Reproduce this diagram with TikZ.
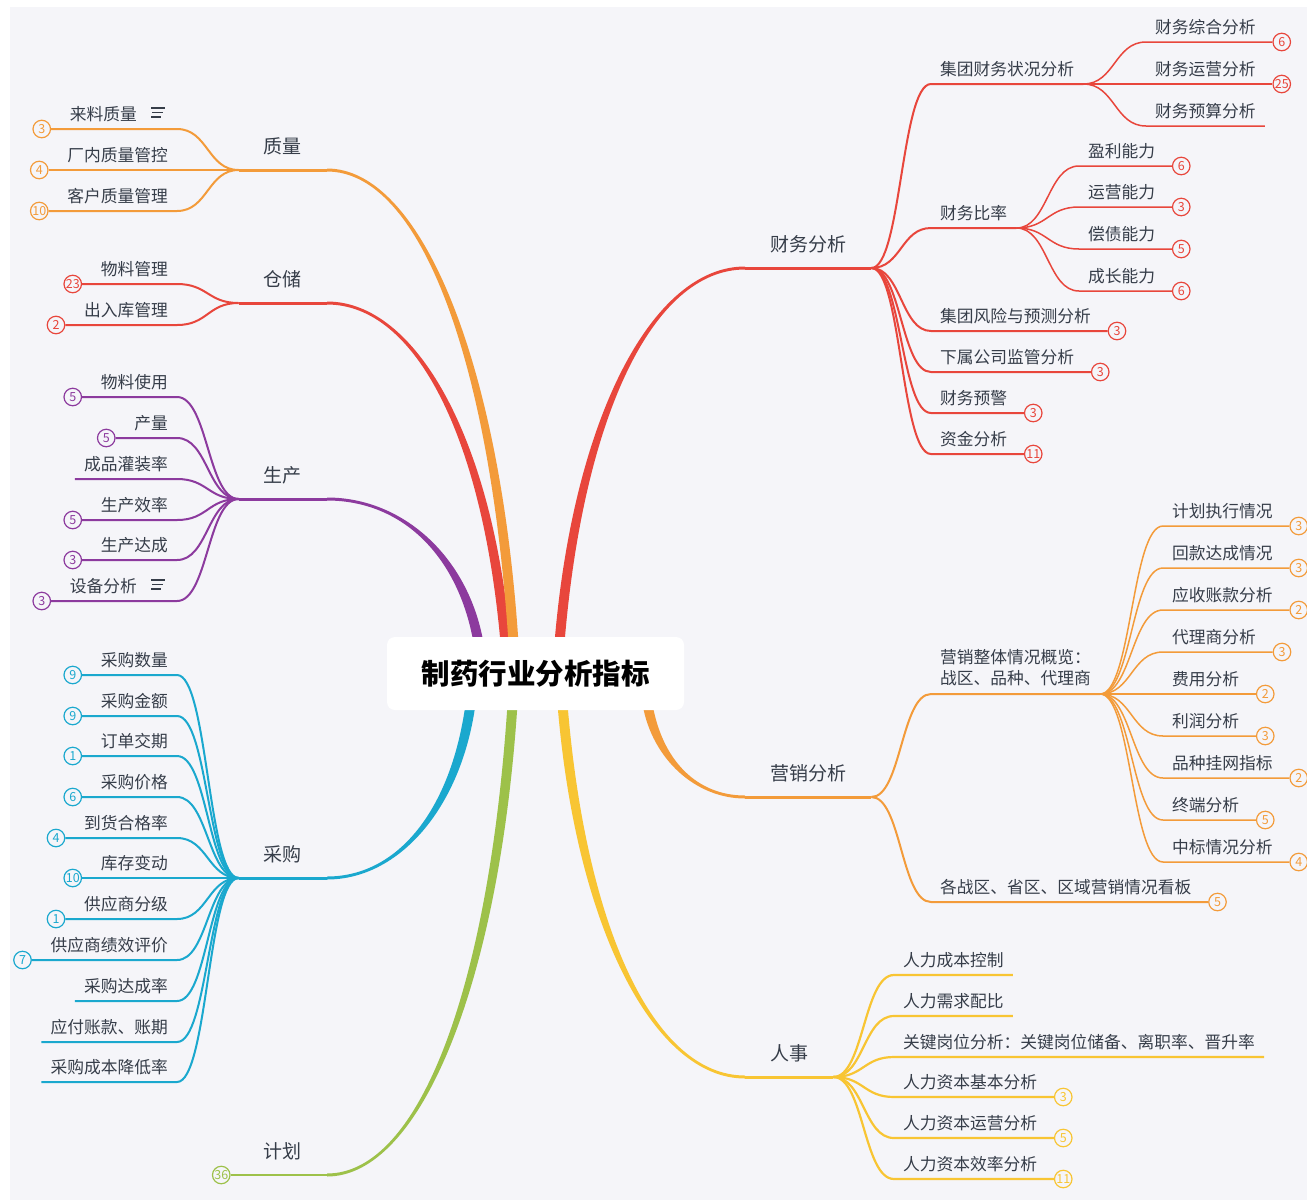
\documentclass[tikz,border=0pt]{standalone}
\usepackage{fontspec}
\setmainfont{Noto Sans CJK SC}
\usetikzlibrary{positioning}
\usetikzlibrary{calc}
\usetikzlibrary{backgrounds}
\definecolor{bgc}{HTML}{F5F5F9}
\definecolor{textc}{HTML}{363D49}
\definecolor{orangeB}{HTML}{F39B3A}
\definecolor{redB}{HTML}{E8463C}
\definecolor{purpleB}{HTML}{8C3A9E}
\definecolor{cyanB}{HTML}{1AA8CE}
\definecolor{greenB}{HTML}{9DC14A}
\definecolor{yellowB}{HTML}{F8C533}
\tikzset{
	root/.style={rectangle, rounded corners=8pt, fill=white, minimum width=297pt, minimum height=73pt, font=\fontsize{28.5}{30}\selectfont\bfseries, text=black},
	topic/.style={inner xsep=25pt, inner ysep=0pt, text height=17pt, text depth=16pt, font=\fontsize{19}{22}\selectfont, text=textc},
	leafbase/.style={inner xsep=9pt, inner ysep=0pt, font=\fontsize{16.75}{21}\selectfont, text=textc},
	leaf/.style={leafbase, text height=14pt, text depth=8.5pt},
	badge/.style={circle, draw=#1, text=#1, fill=bgc, line width=1.2pt, inner sep=0pt, minimum size=17.5pt, font=\fontsize{12.5}{13}\selectfont},
	% curved link between two line ends
	twig/.style={to path={let \p1=(\tikztostart), \p2=(\tikztotarget) in .. controls ({0.5*\x1+0.5*\x2},\y1) and ({0.5*\x1+0.5*\x2},\y2) .. (\p2)}},
}
% tapered branch from the centre to a topic
\newcommand{\trunk}[3]{%
	\fill[#1] let \p1=(#2), \p2=(#3), \n1={-sign(\x2-\x1)*sign(\y2-\y1)} in
		(\x2,{\y2+1.5}) .. controls ({0.5*\x1+0.5*\x2},{\y2+1.5}) and ({0.9*\x1+0.1*\x2+(\n1)*5},{0.4*\y1+0.6*\y2}) .. ({\x1+(\n1)*5},\y1)
		-- ({\x1-(\n1)*5},\y1) .. controls ({0.9*\x1+0.1*\x2-(\n1)*5},{0.4*\y1+0.6*\y2}) and ({0.5*\x1+0.5*\x2},{\y2-1.5}) .. (\x2,{\y2-1.5}) -- cycle;}
% notes icon
\newcommand{\noteicon}[1]{%
	\draw[textc, line width=1.2pt] ([shift={(-26,-21)}]#1.south east) -- ++(14,0)
		([shift={(-25,-16.5)}]#1.south east) -- ++(11,0)
		([shift={(-26,-12)}]#1.south east) -- ++(10,0);}

\begin{document}
\begin{tikzpicture}[x=1pt, y=-1pt]
	\useasboundingbox (0,0) rectangle (1307,1200);
	
	\node (root) [root] at (535.5,673.5) {制药行业分析指标};
	
	% topics
	\node (zl) [topic, anchor=south east] at (327,170) {质量};
	\node (cc) [topic, anchor=south east] at (327,303) {仓储};
	\node (sc) [topic, anchor=south east] at (327,499) {生产};
	\node (cg) [topic, anchor=south east] at (327,878) {采购};
	\node (jh) [topic, anchor=south east] at (327,1175) {计划};
	\node (jhn) [badge=greenB, left=8pt of jh.south west] {36};
	\node (cw) [topic, anchor=south west] at (745,268) {财务分析};
	\node (yx) [topic, anchor=south west] at (745,797) {营销分析};
	\node (rs) [topic, anchor=south west] at (745,1077) {人事};
	
	% 质量
	\node (zl1) [leaf, anchor=south east] at (177,129) {来料质量\kern31pt};
	\node (zl2) [leaf, anchor=south east] at (177,170) {厂内质量管控};
	\node (zl3) [leaf, anchor=south east] at (177,211) {客户质量管理};
	\node (zl1n) [badge=orangeB, left=9.5pt of zl1.south west] {3};
	\node (zl2n) [badge=orangeB, left=9.5pt of zl2.south west] {4};
	\node (zl3n) [badge=orangeB, left=9.5pt of zl3.south west] {10};
	
	% 仓储
	\node (cc1) [leaf, anchor=south east] at (177,284) {物料管理};
	\node (cc2) [leaf, anchor=south east] at (177,325) {出入库管理};
	\node (cc1n) [badge=redB, left=9.5pt of cc1.south west] {23};
	\node (cc2n) [badge=redB, left=9.5pt of cc2.south west] {2};
	
	% 生产
	\node (sc1) [leaf, anchor=south east] at (177,397) {物料使用};
	\node (sc2) [leaf, anchor=south east] at (177,438) {产量};
	\node (sc3) [leaf, anchor=south east] at (177,479) {成品灌装率};
	\node (sc4) [leaf, anchor=south east] at (177,520) {生产效率};
	\node (sc5) [leaf, anchor=south east] at (177,560) {生产达成};
	\node (sc6) [leaf, anchor=south east] at (177,601) {设备分析\kern31pt};
	\node (sc1n) [badge=purpleB, left=9.5pt of sc1.south west] {5};
	\node (sc2n) [badge=purpleB, left=9.5pt of sc2.south west] {5};
	\node (sc4n) [badge=purpleB, left=9.5pt of sc4.south west] {5};
	\node (sc5n) [badge=purpleB, left=9.5pt of sc5.south west] {3};
	\node (sc6n) [badge=purpleB, left=9.5pt of sc6.south west] {3};
	
	% 采购
	\node (cg1) [leaf, anchor=south east] at (177,675) {采购数量};
	\node (cg2) [leaf, anchor=south east] at (177,716) {采购金额};
	\node (cg3) [leaf, anchor=south east] at (177,756) {订单交期};
	\node (cg4) [leaf, anchor=south east] at (177,797) {采购价格};
	\node (cg5) [leaf, anchor=south east] at (177,838) {到货合格率};
	\node (cg6) [leaf, anchor=south east] at (177,878) {库存变动};
	\node (cg7) [leaf, anchor=south east] at (177,919) {供应商分级};
	\node (cg8) [leaf, anchor=south east] at (177,960) {供应商绩效评价};
	\node (cg9) [leaf, anchor=south east] at (177,1001) {采购达成率};
	\node (cg10) [leaf, anchor=south east] at (177,1042) {应付账款、账期};
	\node (cg11) [leaf, anchor=south east] at (177,1082) {采购成本降低率};
	\node (cg1n) [badge=cyanB, left=9.5pt of cg1.south west] {9};
	\node (cg2n) [badge=cyanB, left=9.5pt of cg2.south west] {9};
	\node (cg3n) [badge=cyanB, left=9.5pt of cg3.south west] {1};
	\node (cg4n) [badge=cyanB, left=9.5pt of cg4.south west] {6};
	\node (cg5n) [badge=cyanB, left=9.5pt of cg5.south west] {4};
	\node (cg6n) [badge=cyanB, left=9.5pt of cg6.south west] {10};
	\node (cg7n) [badge=cyanB, left=9.5pt of cg7.south west] {1};
	\node (cg8n) [badge=cyanB, left=9.5pt of cg8.south west] {7};
	
	% 财务分析
	\node (cw1) [leaf, anchor=south west] at (931,84) {集团财务状况分析};
	\node (cw11) [leaf, anchor=south west] at (1146,42) {财务综合分析};
	\node (cw12) [leaf, anchor=south west] at (1146,84) {财务运营分析};
	\node (cw13) [leaf, anchor=south west] at (1146,126) {财务预算分析};
	\node (cw2) [leaf, anchor=south west] at (931,228) {财务比率};
	\node (cw21) [leaf, anchor=south west] at (1079,166) {盈利能力};
	\node (cw22) [leaf, anchor=south west] at (1079,207) {运营能力};
	\node (cw23) [leaf, anchor=south west] at (1079,249) {偿债能力};
	\node (cw24) [leaf, anchor=south west] at (1079,291) {成长能力};
	\node (cw3) [leaf, anchor=south west] at (931,331) {集团风险与预测分析};
	\node (cw4) [leaf, anchor=south west] at (931,372) {下属公司监管分析};
	\node (cw5) [leaf, anchor=south west] at (931,413) {财务预警};
	\node (cw6) [leaf, anchor=south west] at (931,454) {资金分析};
	\node (cw11n) [badge=redB, right=7.5pt of cw11.south east] {6};
	\node (cw12n) [badge=redB, right=7.5pt of cw12.south east] {25};
	\node (cw21n) [badge=redB, right=7.5pt of cw21.south east] {6};
	\node (cw22n) [badge=redB, right=7.5pt of cw22.south east] {3};
	\node (cw23n) [badge=redB, right=7.5pt of cw23.south east] {5};
	\node (cw24n) [badge=redB, right=7.5pt of cw24.south east] {6};
	\node (cw3n) [badge=redB, right=7.5pt of cw3.south east] {3};
	\node (cw4n) [badge=redB, right=7.5pt of cw4.south east] {3};
	\node (cw5n) [badge=redB, right=7.5pt of cw5.south east] {3};
	\node (cw6n) [badge=redB, right=7.5pt of cw6.south east] {11};
	
	% 营销分析
	\node (yx1) [leafbase, align=left, inner ysep=8pt, anchor=south west] at (931,694) {营销整体情况概览：\\战区、品种、代理商};
	\node (yx11) [leaf, anchor=south west] at (1163,526) {计划执行情况};
	\node (yx12) [leaf, anchor=south west] at (1163,568) {回款达成情况};
	\node (yx13) [leaf, anchor=south west] at (1163,610) {应收账款分析};
	\node (yx14) [leaf, anchor=south west] at (1163,652) {代理商分析};
	\node (yx15) [leaf, anchor=south west] at (1163,694) {费用分析};
	\node (yx16) [leaf, anchor=south west] at (1163,736) {利润分析};
	\node (yx17) [leaf, anchor=south west] at (1163,778) {品种挂网指标};
	\node (yx18) [leaf, anchor=south west] at (1163,820) {终端分析};
	\node (yx19) [leaf, anchor=south west] at (1163,862) {中标情况分析};
	\node (yx2) [leaf, anchor=south west] at (931,902) {各战区、省区、区域营销情况看板};
	\node (yx11n) [badge=orangeB, right=7.5pt of yx11.south east] {3};
	\node (yx12n) [badge=orangeB, right=7.5pt of yx12.south east] {3};
	\node (yx13n) [badge=orangeB, right=7.5pt of yx13.south east] {2};
	\node (yx14n) [badge=orangeB, right=7.5pt of yx14.south east] {3};
	\node (yx15n) [badge=orangeB, right=7.5pt of yx15.south east] {2};
	\node (yx16n) [badge=orangeB, right=7.5pt of yx16.south east] {3};
	\node (yx17n) [badge=orangeB, right=7.5pt of yx17.south east] {2};
	\node (yx18n) [badge=orangeB, right=7.5pt of yx18.south east] {5};
	\node (yx19n) [badge=orangeB, right=7.5pt of yx19.south east] {4};
	\node (yx2n) [badge=orangeB, right=7.5pt of yx2.south east] {5};
	
	% 人事
	\node (rs1) [leaf, anchor=south west] at (894,975) {人力成本控制};
	\node (rs2) [leaf, anchor=south west] at (894,1016) {人力需求配比};
	\node (rs3) [leaf, anchor=south west] at (894,1057) {关键岗位分析：关键岗位储备、离职率、晋升率};
	\node (rs4) [leaf, anchor=south west] at (894,1097) {人力资本基本分析};
	\node (rs5) [leaf, anchor=south west] at (894,1138) {人力资本运营分析};
	\node (rs6) [leaf, anchor=south west] at (894,1179) {人力资本效率分析};
	\node (rs4n) [badge=yellowB, right=7.5pt of rs4.south east] {3};
	\node (rs5n) [badge=yellowB, right=7.5pt of rs5.south east] {5};
	\node (rs6n) [badge=yellowB, right=7.5pt of rs6.south east] {11};
	
	\noteicon{zl1}
	\noteicon{sc6}
	
	\begin{scope}[on background layer]
		\fill[white] (0,0) rectangle (1307,1200);
		\fill[bgc] (10,7) rectangle (1307,1200);
		\trunk{purpleB}{[xshift=-57pt,yshift=-6pt]root.north}{sc.south east}
		\trunk{redB}{[xshift=-30pt,yshift=-6pt]root.north}{cc.south east}
		\trunk{orangeB}{[xshift=-22pt,yshift=-6pt]root.north}{zl.south east}
		\trunk{redB}{[xshift=24pt,yshift=-6pt]root.north}{cw.south west}
		\trunk{cyanB}{[xshift=-65pt,yshift=6pt]root.south}{cg.south east}
		\trunk{greenB}{[xshift=-23pt,yshift=6pt]root.south}{jh.south east}
		\trunk{yellowB}{[xshift=27pt,yshift=6pt]root.south}{rs.south west}
		\trunk{orangeB}{[xshift=112pt,yshift=6pt]root.south}{yx.south west}
	\end{scope}
	
	% topic lines
	\begin{scope}[line width=3pt]
		\draw[orangeB] (zl.south west) -- (zl.south east);
		\draw[redB] (cc.south west) -- (cc.south east);
		\draw[purpleB] (sc.south west) -- (sc.south east);
		\draw[cyanB] (cg.south west) -- (cg.south east);
		\draw[greenB, line width=2.5pt] (jhn) -- (jh.south west) -- (jh.south east);
		\draw[redB] (cw.south west) -- (cw.south east);
		\draw[orangeB] (yx.south west) -- (yx.south east);
		\draw[yellowB] (rs.south west) -- (rs.south east);
	\end{scope}
	
	\begin{scope}[orangeB, line width=2pt]
		\draw (zl1n) -- (zl1.south west) -- (zl1.south east) to[twig] (zl.south west);
		\draw (zl2n) -- (zl2.south west) -- (zl2.south east) to[twig] (zl.south west);
		\draw (zl3n) -- (zl3.south west) -- (zl3.south east) to[twig] (zl.south west);
	\end{scope}
	
	\begin{scope}[redB, line width=2pt]
		\draw (cc1n) -- (cc1.south west) -- (cc1.south east) to[twig] (cc.south west);
		\draw (cc2n) -- (cc2.south west) -- (cc2.south east) to[twig] (cc.south west);
	\end{scope}
	
	\begin{scope}[purpleB, line width=2pt]
		\draw (sc1n) -- (sc1.south west) -- (sc1.south east) to[twig] (sc.south west);
		\draw (sc2n) -- (sc2.south west) -- (sc2.south east) to[twig] (sc.south west);
		\draw (sc3.south west) -- (sc3.south east) to[twig] (sc.south west);
		\draw (sc4n) -- (sc4.south west) -- (sc4.south east) to[twig] (sc.south west);
		\draw (sc5n) -- (sc5.south west) -- (sc5.south east) to[twig] (sc.south west);
		\draw (sc6n) -- (sc6.south west) -- (sc6.south east) to[twig] (sc.south west);
	\end{scope}
	
	\begin{scope}[cyanB, line width=2pt]
		\draw (cg1n) -- (cg1.south west) -- (cg1.south east) to[twig] (cg.south west);
		\draw (cg2n) -- (cg2.south west) -- (cg2.south east) to[twig] (cg.south west);
		\draw (cg3n) -- (cg3.south west) -- (cg3.south east) to[twig] (cg.south west);
		\draw (cg4n) -- (cg4.south west) -- (cg4.south east) to[twig] (cg.south west);
		\draw (cg5n) -- (cg5.south west) -- (cg5.south east) to[twig] (cg.south west);
		\draw (cg6n) -- (cg6.south west) -- (cg6.south east) to[twig] (cg.south west);
		\draw (cg7n) -- (cg7.south west) -- (cg7.south east) to[twig] (cg.south west);
		\draw (cg8n) -- (cg8.south west) -- (cg8.south east) to[twig] (cg.south west);
		\draw (cg9.south west) -- (cg9.south east) to[twig] (cg.south west);
		\draw (cg10.south west) -- (cg10.south east) to[twig] (cg.south west);
		\draw (cg11.south west) -- (cg11.south east) to[twig] (cg.south west);
	\end{scope}
	
	\begin{scope}[redB, line width=2pt]
		\draw (cw.south east) to[twig] (cw1.south west) -- (cw1.south east);
		\draw (cw.south east) to[twig] (cw2.south west) -- (cw2.south east);
		\draw (cw.south east) to[twig] (cw3.south west) -- (cw3.south east) -- (cw3n);
		\draw (cw.south east) to[twig] (cw4.south west) -- (cw4.south east) -- (cw4n);
		\draw (cw.south east) to[twig] (cw5.south west) -- (cw5.south east) -- (cw5n);
		\draw (cw.south east) to[twig] (cw6.south west) -- (cw6.south east) -- (cw6n);
	\end{scope}
	\begin{scope}[redB, line width=1.5pt]
		\draw (cw1.south east) to[twig] (cw11.south west) -- (cw11.south east) -- (cw11n);
		\draw (cw1.south east) to[twig] (cw12.south west) -- (cw12.south east) -- (cw12n);
		\draw (cw1.south east) to[twig] (cw13.south west) -- (cw13.south east);
		\draw (cw2.south east) to[twig] (cw21.south west) -- (cw21.south east) -- (cw21n);
		\draw (cw2.south east) to[twig] (cw22.south west) -- (cw22.south east) -- (cw22n);
		\draw (cw2.south east) to[twig] (cw23.south west) -- (cw23.south east) -- (cw23n);
		\draw (cw2.south east) to[twig] (cw24.south west) -- (cw24.south east) -- (cw24n);
	\end{scope}
	
	\begin{scope}[orangeB, line width=2pt]
		\draw (yx.south east) to[twig] (yx1.south west) -- (yx1.south east);
		\draw (yx.south east) to[twig] (yx2.south west) -- (yx2.south east) -- (yx2n);
	\end{scope}
	\begin{scope}[orangeB, line width=1.5pt]
		\draw (yx1.south east) to[twig] (yx11.south west) -- (yx11.south east) -- (yx11n);
		\draw (yx1.south east) to[twig] (yx12.south west) -- (yx12.south east) -- (yx12n);
		\draw (yx1.south east) to[twig] (yx13.south west) -- (yx13.south east) -- (yx13n);
		\draw (yx1.south east) to[twig] (yx14.south west) -- (yx14.south east) -- (yx14n);
		\draw (yx1.south east) to[twig] (yx15.south west) -- (yx15.south east) -- (yx15n);
		\draw (yx1.south east) to[twig] (yx16.south west) -- (yx16.south east) -- (yx16n);
		\draw (yx1.south east) to[twig] (yx17.south west) -- (yx17.south east) -- (yx17n);
		\draw (yx1.south east) to[twig] (yx18.south west) -- (yx18.south east) -- (yx18n);
		\draw (yx1.south east) to[twig] (yx19.south west) -- (yx19.south east) -- (yx19n);
	\end{scope}
	
	\begin{scope}[yellowB, line width=2.2pt]
		\draw (rs.south east) to[twig] (rs1.south west) -- (rs1.south east);
		\draw (rs.south east) to[twig] (rs2.south west) -- (rs2.south east);
		\draw (rs.south east) to[twig] (rs3.south west) -- (rs3.south east);
		\draw (rs.south east) to[twig] (rs4.south west) -- (rs4.south east) -- (rs4n);
		\draw (rs.south east) to[twig] (rs5.south west) -- (rs5.south east) -- (rs5n);
		\draw (rs.south east) to[twig] (rs6.south west) -- (rs6.south east) -- (rs6n);
	\end{scope}
	
\end{tikzpicture}
\end{document}
